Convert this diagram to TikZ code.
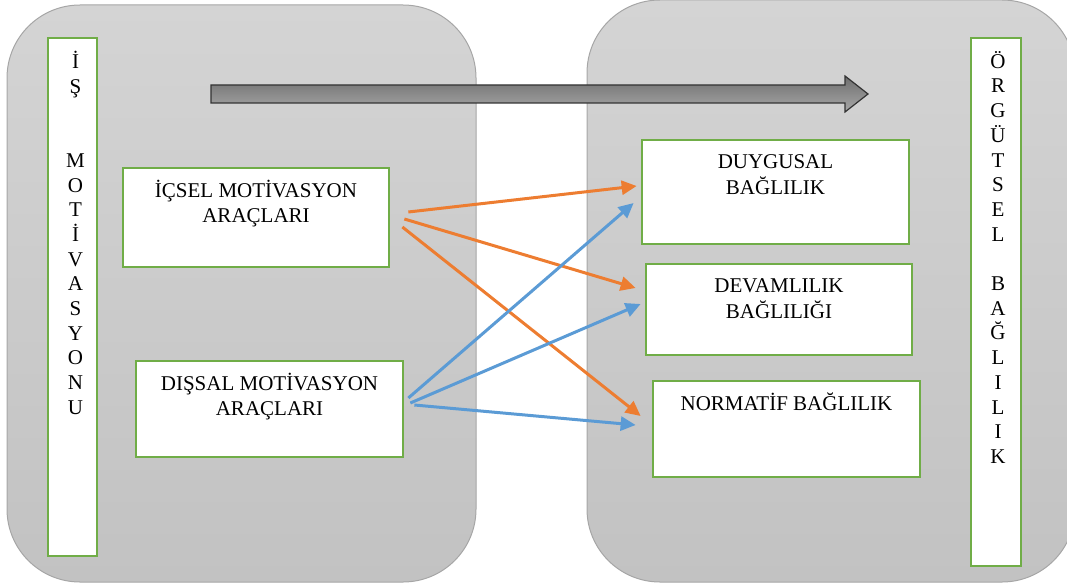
\documentclass[tikz,border=0pt]{standalone}
\usepackage{fontspec}
\setmainfont{Liberation Serif}
\usetikzlibrary{arrows.meta,calc}
\definecolor{grn}{HTML}{70AD47}
\definecolor{org}{HTML}{ED7D31}
\definecolor{blu}{HTML}{5B9BD5}
\definecolor{pnltop}{HTML}{D4D4D4}
\definecolor{pnlbot}{HTML}{C2C2C2}
\definecolor{pnlline}{HTML}{A6A6A6}
\definecolor{arrtop}{HTML}{6E6E6E}
\definecolor{arrbot}{HTML}{A8A8A8}
\tikzset{
  panel/.style={draw=pnlline, line width=1pt, rounded corners=73pt, top color=pnltop, bottom color=pnlbot},
  gbox/.style={draw=grn, line width=2.7pt, fill=white, inner sep=0pt},
  boxtext/.style={anchor=north, align=center, inner sep=0pt, font=\fontsize{21}{25.5}\selectfont},
  vtext/.style={anchor=north, align=center, inner sep=0pt, font=\fontsize{21}{24.7}\selectfont},
  oarr/.style={draw=org, line width=3pt, -{Triangle[length=15pt,width=14pt]}},
  barr/.style={draw=blu, line width=3pt, -{Triangle[length=15pt,width=14pt]}},
}
\begin{document}
\begin{tikzpicture}[x=1pt,y=-1pt]
\useasboundingbox (0,0) rectangle (1067,588);
\begin{scope}
\clip (0,0) rectangle (1067,588);
% panels
\path[panel] (7,5) rectangle (476,582);
\path[panel] (587,0) rectangle (1075,582);
% big arrow
\path[draw=black!80, line width=1.2pt, top color=arrtop, bottom color=arrbot]
  (211,85) -- (845,85) -- (845,76) -- (868,94) -- (845,112) -- (845,103) -- (211,103) -- cycle;
% vertical boxes
\node[gbox, minimum width=49pt, minimum height=518pt] (lv) at (72.5,297) {};
\node[vtext] (lvt) at (75.5,51) {İ\\Ş\\\mbox{}\\\mbox{}\\M\\O\\T\\İ\\V\\A\\S\\Y\\O\\N\\U};
\node[gbox, minimum width=50pt, minimum height=528pt] (rv) at (996,302) {};
\node[vtext] (rvt) at (998,51) {Ö\\R\\G\\Ü\\T\\S\\E\\L\\\mbox{}\\B\\A\\Ğ\\L\\I\\L\\I\\K};
% boxes
\node[gbox, minimum width=266pt, minimum height=99pt] (icsel) at (256,217.5) {};
\node[boxtext] at ([yshift=-13pt]icsel.north) {İÇSEL MOTİVASYON\\ARAÇLARI};
\node[gbox, minimum width=267pt, minimum height=96pt] (dissal) at (269.5,409) {};
\node[boxtext] at ([yshift=-13pt]dissal.north) {DIŞSAL MOTİVASYON\\ARAÇLARI};
\node[gbox, minimum width=267pt, minimum height=104pt] (duygu) at (775.5,192) {};
\node[boxtext] at ([yshift=-16pt]duygu.north) {DUYGUSAL\\BAĞLILIK};
\node[gbox, minimum width=266pt, minimum height=91pt] (devam) at (779,309.5) {};
\node[boxtext] at ([yshift=-16pt]devam.north) {DEVAMLILIK\\BAĞLILIĞI};
\node[gbox, minimum width=267pt, minimum height=96pt] (norm) at (786.5,429) {};
\node[boxtext] at ([yshift=-13pt]norm.north) {NORMATİF BAĞLILIK};
% arrows
\draw[oarr] ([shift={(18,-5.5)}]icsel.east) -- ([shift={(-4,-6)}]duygu.west);
\draw[oarr] ([shift={(14,1.5)}]icsel.east) -- ([shift={(-9,-21.5)}]devam.west);
\draw[oarr] ([shift={(12,9.5)}]icsel.east) -- ([shift={(-11,-13)}]norm.west);
\draw[barr] ([shift={(4,-11)}]dissal.east) -- ([shift={(-7,11)}]duygu.west);
\draw[barr] ([shift={(6,-6)}]dissal.east) -- ([shift={(-4,-5.5)}]devam.west);
\draw[barr] ([shift={(10,-4)}]dissal.east) -- ([shift={(-16,-4)}]norm.west);
\end{scope}
\end{tikzpicture}
\end{document}
